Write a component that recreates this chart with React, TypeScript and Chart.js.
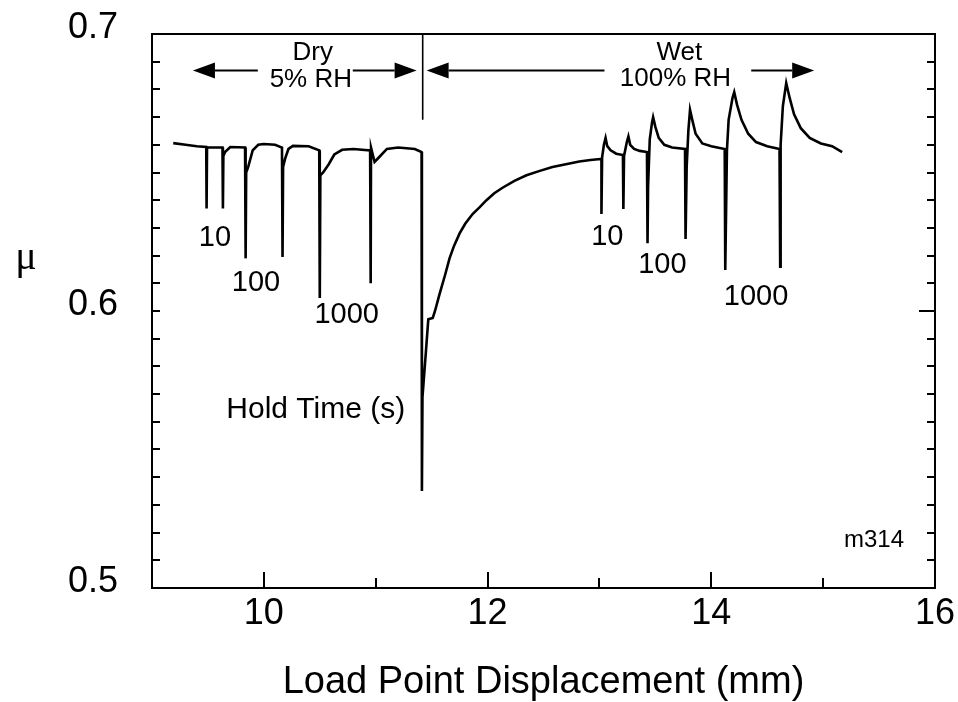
import React, { useEffect, useRef } from "react";
import { Chart, registerables } from "chart.js";

Chart.register(...registerables);

// ---- Data ----
// Dry (5% RH) slide-hold-slide trace, ending with the drop at the humidity change
const dryX = [
  9.19, 9.3, 9.4, 9.485, 9.488, 9.492, 9.55, 9.63, 9.634, 9.638, 9.655, 9.7,
  9.832, 9.837, 9.842, 9.86, 9.9, 9.95, 10.0, 10.1, 10.162, 10.167, 10.172,
  10.19, 10.22, 10.26, 10.4, 10.495, 10.5, 10.505, 10.53, 10.58, 10.63, 10.7,
  10.8, 10.95, 10.955, 10.958, 10.99, 11.03, 11.1, 11.2, 11.35, 11.41, 11.413,
];
const dryY = [
  0.6606, 0.66, 0.6595, 0.6592, 0.637, 0.659, 0.659, 0.659, 0.637, 0.656, 0.6575, 0.6592,
  0.659, 0.619, 0.65, 0.652, 0.658, 0.66, 0.6603, 0.66, 0.659, 0.6195, 0.652,
  0.655, 0.6585, 0.6596, 0.6595, 0.658, 0.6047, 0.649, 0.65, 0.653, 0.6565, 0.6582,
  0.6585, 0.658, 0.61, 0.659, 0.6538, 0.6555, 0.6585, 0.659, 0.6585, 0.6574, 0.535,
];
// Recovery after wetting
const recoveryX = [
  11.418, 11.45, 11.47, 11.51, 11.53, 11.57, 11.62, 11.66, 11.7, 11.75, 11.8,
  11.866, 11.93, 11.99, 12.06, 12.134, 12.24, 12.348, 12.46, 12.58, 12.7, 12.82,
  12.92, 13.01,
];
const recoveryY = [
  0.569, 0.586, 0.597, 0.5975, 0.6, 0.606, 0.613, 0.619, 0.6235, 0.628, 0.6315,
  0.635, 0.6375, 0.64, 0.6425, 0.6445, 0.647, 0.649, 0.6505, 0.652, 0.653, 0.654,
  0.6545, 0.6549,
];
// Wet (100% RH) slide-hold-slide trace
const wetX = [
  13.018, 13.018, 13.024, 13.04, 13.055, 13.07, 13.1, 13.15, 13.21,
  13.214, 13.22, 13.245, 13.259, 13.275, 13.31, 13.36, 13.425,
  13.43, 13.435, 13.45, 13.47, 13.48, 13.5, 13.53, 13.58, 13.65, 13.765,
  13.77, 13.78, 13.795, 13.81, 13.83, 13.86, 13.92, 14.0, 14.12,
  14.125, 14.14, 14.155, 14.19, 14.205, 14.23, 14.27, 14.33, 14.4, 14.5, 14.61,
  14.616, 14.62, 14.64, 14.67, 14.7, 14.74, 14.8, 14.88, 14.98, 15.08, 15.17,
];
const wetY = [
  0.6549, 0.635, 0.6555, 0.66, 0.6625, 0.6595, 0.658, 0.6568, 0.6563,
  0.6368, 0.656, 0.661, 0.663, 0.66, 0.6585, 0.6578, 0.6574,
  0.6245, 0.645, 0.662, 0.668, 0.67, 0.6665, 0.6625, 0.66, 0.659, 0.6585,
  0.626, 0.652, 0.665, 0.6726, 0.669, 0.664, 0.6605, 0.6595, 0.6585,
  0.6148, 0.658, 0.669, 0.677, 0.679, 0.6745, 0.669, 0.664, 0.661, 0.6595, 0.6585,
  0.616, 0.66, 0.674, 0.6823, 0.677, 0.671, 0.666, 0.6625, 0.6605, 0.6595, 0.6574,
];
// Vertical divider at the humidity change
const dividerX = [11.42, 11.42];
const dividerY = [0.7, 0.669];

// Axis ranges / labels
const xMin = 9, xMax = 16, xStep = 1;
const yMin = 0.5, yMax = 0.7, yStep = 0.01;
const xTitle = "Load Point Displacement (mm)";
const yTitle = "μ";
const yTitleAt = 0.619;

// Annotations (data coordinates)
const holdLabels = [
  { text: "10", x: 9.5625, y: 0.6264 },
  { text: "100", x: 9.93, y: 0.6101 },
  { text: "1000", x: 10.741, y: 0.5986 },
  { text: "10", x: 13.071, y: 0.6267 },
  { text: "100", x: 13.5625, y: 0.6166 },
  { text: "1000", x: 14.4, y: 0.605 },
];
const holdTitle = { text: "Hold Time (s)", x: 10.464, y: 0.5643 };
const phaseLabels = [
  { text: "Dry", x: 10.4375, y: 0.6931 },
  { text: "5% RH", x: 10.42, y: 0.6834 },
  { text: "Wet", x: 13.714, y: 0.6931 },
  { text: "100% RH", x: 13.68, y: 0.6838 },
];
const arrowY = 0.6868;
const arrows = [
  { from: 9.946, to: 9.366 },
  { from: 10.795, to: 11.366 },
  { from: 13.045, to: 11.455 },
  { from: 14.357, to: 14.92 },
];
const runId = { text: "m314", x: 15.455, y: 0.5173 };

const FONT = "'Liberation Sans', Arial, Helvetica, sans-serif";

const toPoints = (xs: number[], ys: number[]) => xs.map((x, i) => ({ x, y: ys[i] }));

const overlay = {
  id: "overlay",
  afterDatasetsDraw(chart: any) {
    const { ctx, chartArea: a, scales } = chart;
    const x = scales.x;
    const y = scales.y;
    ctx.save();
    ctx.strokeStyle = "#000";
    ctx.fillStyle = "#000";
    ctx.lineWidth = 2;
    ctx.strokeRect(a.left, a.top, a.right - a.left, a.bottom - a.top);

    // inward tick marks
    ctx.beginPath();
    y.ticks.forEach((t: any) => {
      const py = Math.round(y.getPixelForValue(t.value));
      const major = t.label !== "" && t.label != null;
      ctx.moveTo(a.left, py);
      ctx.lineTo(a.left + 8, py);
      ctx.moveTo(a.right, py);
      ctx.lineTo(a.right - (major ? 16 : 8), py);
    });
    x.ticks.forEach((t: any) => {
      const px = Math.round(x.getPixelForValue(t.value));
      const major = t.label !== "" && t.label != null;
      ctx.moveTo(px, a.bottom);
      ctx.lineTo(px, a.bottom - (major ? 16 : 10));
    });
    ctx.stroke();

    // arrows
    const ay = y.getPixelForValue(arrowY);
    arrows.forEach((ar) => {
      const x0 = x.getPixelForValue(ar.from);
      const x1 = x.getPixelForValue(ar.to);
      const dir = Math.sign(x1 - x0);
      const headLen = 22;
      ctx.lineWidth = 2;
      ctx.beginPath();
      ctx.moveTo(x0, ay);
      ctx.lineTo(x1 - dir * headLen, ay);
      ctx.stroke();
      ctx.beginPath();
      ctx.moveTo(x1, ay);
      ctx.lineTo(x1 - dir * headLen, ay - 8);
      ctx.lineTo(x1 - dir * headLen, ay + 8);
      ctx.closePath();
      ctx.fill();
    });

    ctx.textAlign = "center";
    ctx.textBaseline = "middle";
    ctx.font = `26px ${FONT}`;
    phaseLabels.forEach((l) => {
      ctx.fillText(l.text, x.getPixelForValue(l.x), y.getPixelForValue(l.y));
    });
    ctx.font = `29px ${FONT}`;
    holdLabels.forEach((l) => {
      ctx.fillText(l.text, x.getPixelForValue(l.x), y.getPixelForValue(l.y));
    });
    ctx.font = `30px ${FONT}`;
    ctx.fillText(holdTitle.text, x.getPixelForValue(holdTitle.x), y.getPixelForValue(holdTitle.y));
    ctx.font = `24px ${FONT}`;
    ctx.fillText(runId.text, x.getPixelForValue(runId.x), y.getPixelForValue(runId.y));

    // y-axis title (upright μ)
    ctx.font = `40px 'Liberation Serif', 'Times New Roman', serif`;
    ctx.fillText(yTitle, 26, y.getPixelForValue(yTitleAt));
    ctx.restore();
  },
};

export default function App() {
  const ref = useRef<HTMLCanvasElement | null>(null);
  useEffect(() => {
    if (!ref.current) return;
    const chart = new Chart(ref.current, {
      type: "scatter",
      data: {
        datasets: [
          {
            data: [
              ...toPoints(dryX, dryY),
              ...toPoints(recoveryX, recoveryY),
              ...toPoints(wetX, wetY),
            ],
            showLine: true,
            borderColor: "#000",
            borderWidth: 2.6,
            pointRadius: 0,
            tension: 0,
          },
          {
            data: toPoints(dividerX, dividerY),
            showLine: true,
            borderColor: "#000",
            borderWidth: 1.6,
            pointRadius: 0,
          },
        ],
      },
      options: {
        animation: false,
        responsive: false,
        events: [],
        layout: { padding: { top: 34, right: 23, left: 0, bottom: 0 } },
        plugins: { legend: { display: false }, tooltip: { enabled: false } },
        scales: {
          x: {
            type: "linear",
            min: xMin,
            max: xMax,
            grid: { display: false, drawTicks: false },
            border: { display: false },
            ticks: {
              stepSize: xStep,
              autoSkip: false,
              maxRotation: 0,
              color: "#000",
              padding: 4,
              font: { family: FONT, size: 36 },
              callback: (v: any) => (Math.round(v) % 2 === 0 ? String(Math.round(v)) : ""),
            },
            title: {
              display: true,
              text: xTitle,
              color: "#000",
              font: { family: FONT, size: 38, lineHeight: 1 },
              padding: 0,
            },
            afterFit: (s: any) => {
              s.height = 114;
              s.paddingLeft = 0;
              s.paddingRight = 0;
            },
          },
          y: {
            type: "linear",
            min: yMin,
            max: yMax,
            grid: { display: false, drawTicks: false },
            border: { display: false },
            ticks: {
              stepSize: yStep,
              autoSkip: false,
              color: "#000",
              padding: 34,
              labelOffset: -6,
              font: { family: FONT, size: 36 },
              callback: (v: any) => {
                const n = Number(v) * 10;
                return Math.abs(n - Math.round(n)) < 1e-6 ? (Math.round(n) / 10).toFixed(1) : "";
              },
            },
            afterFit: (s: any) => {
              s.width = 152;
              s.paddingTop = 0;
              s.paddingBottom = 0;
            },
          },
        },
      },
      plugins: [overlay],
    });
    return () => chart.destroy();
  }, []);
  return (
    <div style={{ position: "fixed", left: 0, top: 0, width: 958, height: 702, background: "#fff" }}>
      <canvas ref={ref} width={958} height={702} style={{ display: "block" }} />
    </div>
  );
}
